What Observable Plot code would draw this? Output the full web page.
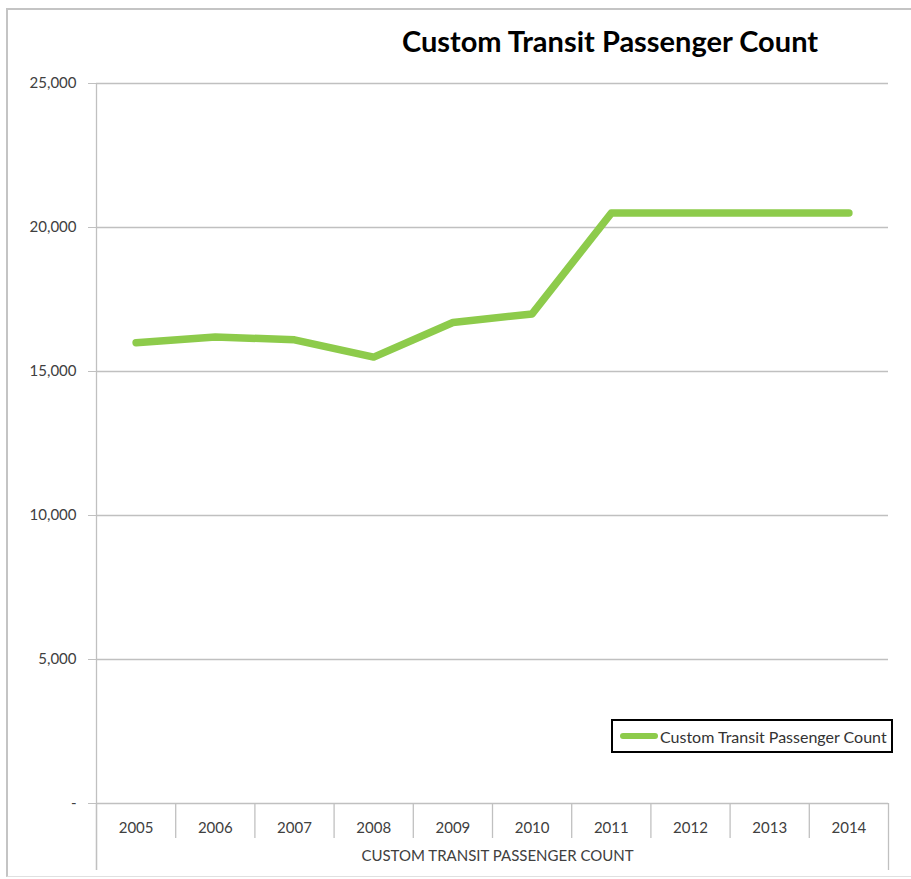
<!DOCTYPE html>
<html><head><meta charset="utf-8">
<script src="https://cdn.jsdelivr.net/npm/d3@7"></script>
<script src="https://cdn.jsdelivr.net/npm/@observablehq/plot@0.6"></script>
<style>
body{margin:0;background:#fff;}
#wrap{position:relative;width:911px;height:879px;overflow:hidden;font-family:Lato,"Open Sans",sans-serif;}
#frame{position:absolute;left:6px;top:8px;width:910px;height:869px;border-left:2px solid #c4c4c4;border-top:2px solid #c4c4c4;border-bottom:1px solid #e0e0e0;box-sizing:border-box;}
#chart{position:absolute;left:0;top:0;}
#title{position:absolute;left:330px;width:560px;top:23px;text-align:center;font-weight:bold;font-size:29px;color:#000;}
#legend{position:absolute;left:611px;top:719px;width:282px;height:34px;border:2px solid #000;box-sizing:border-box;display:flex;align-items:center;padding-left:7px;font-size:16px;color:#333;background:#fff;white-space:nowrap;}
#legend .sw{width:38px;height:6px;border-radius:3px;background:#8DCB4B;margin-right:2px;flex:none;}
</style>
</head><body>
<div id="wrap">
<div id="frame"></div>
<div id="chart"></div>
<div id="title"></div>
<div id="legend"><span class="sw"></span><span id="legtext"></span></div>
</div>
<script>
const years = [2005, 2006, 2007, 2008, 2009, 2010, 2011, 2012, 2013, 2014];
const passengers = [16000, 16200, 16100, 15500, 16700, 17000, 20500, 20500, 20500, 20500];
const yTicks = [0, 5000, 10000, 15000, 20000, 25000];
const yTickLabels = ["-", "5,000", "10,000", "15,000", "20,000", "25,000"];
const chartTitle = "Custom Transit Passenger Count";
const seriesName = "Custom Transit Passenger Count";
const xAxisTitle = "CUSTOM TRANSIT PASSENGER COUNT";

const table = years.map((year, i) => ({year, value: passengers[i]}));
const lo = years[0] - 0.5, hi = years[years.length - 1] + 0.5;
const innerBounds = years.slice(1).map(y => y - 0.5);
const outerBounds = [lo, hi];
const grid = "#c0c0c0";
const green = "#8DCB4B";

const chart = Plot.plot({
  width: 911, height: 879,
  marginLeft: 96, marginRight: 23, marginTop: 83, marginBottom: 76,
  style: {fontFamily: 'Lato,"Open Sans",sans-serif', fontSize: "15px", background: "transparent", overflow: "visible"},
  x: {type: "linear", domain: [lo, hi]},
  y: {domain: [0, 25000]},
  marks: [
    Plot.gridY(yTicks, {stroke: grid, strokeOpacity: 1, strokeWidth: 1.3}),
    Plot.axisY(yTicks, {tickSize: 8, tickPadding: 12, stroke: grid, fill: "#404040", fontSize: 15,
      tickFormat: d => yTickLabels[yTicks.indexOf(d)], label: null}),
    Plot.ruleX([lo], {stroke: grid, strokeWidth: 1.3, insetBottom: -67}),
    Plot.axisX(innerBounds, {tickSize: 35, stroke: grid, strokeWidth: 1.3, tickFormat: () => "", label: null}),
    Plot.axisX(outerBounds, {tickSize: 67, stroke: grid, strokeWidth: 1.3, tickFormat: () => "", label: null}),
    Plot.axisX(years, {tickSize: 0, tickPadding: 19, fill: "#404040", fontSize: 15, tickFormat: d => String(d), label: null}),
    Plot.text([xAxisTitle], {frameAnchor: "bottom", dy: 57, dx: 5, fill: "#404040", fontSize: 15}),
    Plot.line(table, {x: "year", y: "value", stroke: green, strokeWidth: 7.5, strokeLinecap: "round", strokeLinejoin: "round"})
  ]
});
document.getElementById("chart").appendChild(chart);
document.getElementById("title").textContent = chartTitle;
document.getElementById("legtext").textContent = seriesName;
</script>
</body></html>
